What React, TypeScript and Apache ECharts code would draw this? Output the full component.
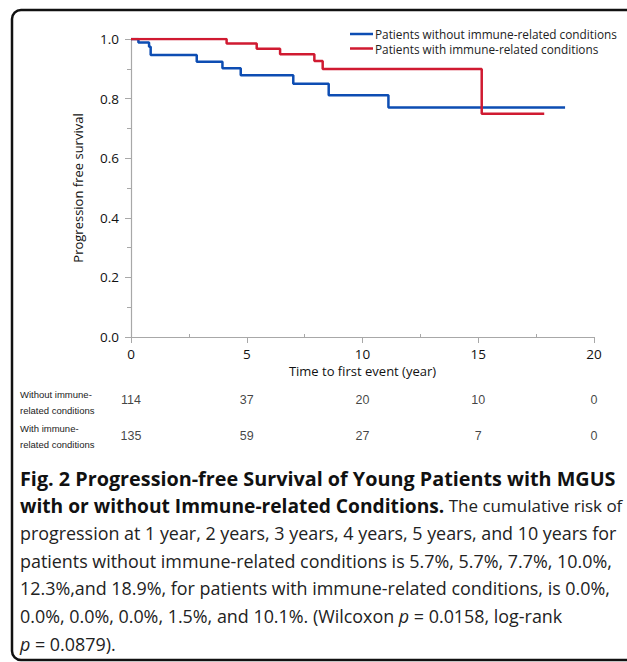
import React, { useEffect, useRef } from "react";
import * as echarts from "echarts";

const seriesNames = [
  "Patients without immune-related conditions",
  "Patients with immune-related conditions",
];
// Kaplan-Meier steps: [time (years), survival]
const withoutImmune: [number, number][] = [
  [0, 1.0],
  [0.32, 0.988],
  [0.78, 0.974],
  [0.85, 0.946],
  [2.84, 0.924],
  [3.95, 0.902],
  [4.74, 0.878],
  [7.01, 0.85],
  [8.54, 0.811],
  [11.12, 0.77],
  [18.75, 0.77],
];
const withImmune: [number, number][] = [
  [0, 1.0],
  [4.13, 0.985],
  [5.43, 0.967],
  [6.44, 0.949],
  [7.92, 0.926],
  [8.28, 0.899],
  [15.15, 0.749],
  [17.85, 0.749],
];
const riskTimes = [0, 5, 10, 15, 20];
const riskWithout = [114, 37, 20, 10, 0];
const riskWith = [135, 59, 27, 7, 0];
const riskRows = ["without", "with"];

const BLUE = "#0d4db3";
const RED = "#d01a31";
const AXIS = "#a8a8a8";
const FONT = "'Open Sans', 'Noto Sans', sans-serif";
const CAP_FONT = "'Open Sans', 'Noto Sans', sans-serif";

export default function App() {
  const ref = useRef<HTMLDivElement>(null);
  useEffect(() => {
    if (!ref.current) return;
    const chart = echarts.init(ref.current, undefined, { renderer: "svg" });
    const boldSize = 19.8;
    const regSize = 17.9;
    const lh = 27.6;
    const capY = 478;
    const rich = {
      b: { fontFamily: CAP_FONT, fontSize: boldSize, fontWeight: "bold", fill: "#111" },
      b2: { fontFamily: CAP_FONT, fontSize: 19.2, fontWeight: "bold", fill: "#111" },
      n2: { fontFamily: CAP_FONT, fontSize: 17.0, fill: "#222" },
      n: { fontFamily: CAP_FONT, fontSize: regSize, fill: "#222" },
      i: { fontFamily: CAP_FONT, fontSize: regSize, fontStyle: "italic", fill: "#222" },
    };
    const capLines = [
      "{b|Fig. 2 Progression-free Survival of Young Patients with MGUS}",
      "{b2|with or without Immune-related Conditions.}{n2| The cumulative risk of}",
      "{n|progression at 1 year, 2 years, 3 years, 4 years, 5 years, and 10 years for}",
      "{n|patients without immune-related conditions is 5.7%, 5.7%, 7.7%, 10.0%,}",
      "{n|12.3%,and 18.9%, for patients with immune-related conditions, is 0.0%,}",
      "{n|0.0%, 0.0%, 0.0%, 1.5%, and 10.1%. (Wilcoxon }{i|p}{n| = 0.0158, log-rank}",
      "{i|p}{n| = 0.0879).}",
    ];
    const rowLabelStyle = {
      fontFamily: "'Liberation Sans', Arial, sans-serif",
      fontSize: 9.5,
      lineHeight: 16.5,
      fill: "#222",
      verticalAlign: "top",
    };
    const graphics: any[] = [
      {
        type: "rect",
        shape: { x: 12, y: 10, width: 640, height: 650, r: 9 },
        style: { fill: "none", stroke: "#111", lineWidth: 2.5 },
      },
      ...capLines.map((t, k) => ({
        type: "text",
        x: 20,
        y: capY + k * lh,
        style: { text: t, rich, verticalAlign: "middle", align: "left" },
      })),
      {
        type: "text",
        x: 20,
        y: 386,
        style: { ...rowLabelStyle, text: "Without immune-\nrelated conditions" },
      },
      {
        type: "text",
        x: 20,
        y: 420,
        style: { ...rowLabelStyle, text: "With immune-\nrelated conditions" },
      },
    ];

    const xBase = {
      type: "value",
      min: 0,
      max: 20,
      interval: 5,
    };
    const riskLabel = {
      show: true,
      position: "inside",
      formatter: (p: any) => String(p.value[2]),
      fontFamily: "'Liberation Sans', Arial, sans-serif",
      fontSize: 12.5,
      color: "#111",
    };
    chart.setOption({
      animation: false,
      textStyle: { fontFamily: FONT },
      grid: [
        { left: 131, right: 33, top: 39, bottom: 325 },
        { left: 131, right: 33, top: 382, height: 72 },
      ],
      legend: {
        orient: "vertical",
        left: 345,
        top: 23,
        itemWidth: 23,
        itemHeight: 2.5,
        itemGap: 2.5,
        icon: "rect",
        textStyle: { fontFamily: FONT, fontSize: 11.8, color: "#222", padding: [0, 0, 0, -3] },
        data: seriesNames,
      },
      xAxis: [
        {
          ...xBase,
          gridIndex: 0,
          name: "Time to first event (year)",
          nameLocation: "middle",
          nameGap: 27,
          nameTextStyle: { fontFamily: FONT, fontSize: 13, color: "#111" },
          axisLine: { show: true, lineStyle: { color: AXIS, width: 1.2 } },
          axisTick: { show: true, length: 6, lineStyle: { color: AXIS } },
          axisLabel: { fontFamily: FONT, fontSize: 13.5, color: "#111", margin: 10 },
          splitLine: { show: false },
        },
        {
          ...xBase,
          gridIndex: 0,
          position: "bottom",
          axisLine: { show: false },
          axisTick: { show: false, inside: true },
          minorTick: { show: true, splitNumber: 2, length: 3, lineStyle: { color: AXIS } },
          axisLabel: { show: false },
          splitLine: { show: false },
        },
        {
          ...xBase,
          gridIndex: 1,
          show: false,
        },
      ],
      yAxis: [
        {
          type: "value",
          gridIndex: 0,
          min: 0,
          max: 1,
          interval: 0.2,
          name: "Progression free survival",
          nameLocation: "middle",
          nameGap: 47,
          nameTextStyle: { fontFamily: FONT, fontSize: 13, color: "#111" },
          axisLine: { show: true, lineStyle: { color: AXIS, width: 1.2 } },
          axisTick: { show: true, length: 6, lineStyle: { color: AXIS } },
          minorTick: { show: true, splitNumber: 2, length: 4, lineStyle: { color: AXIS } },
          axisLabel: {
            fontFamily: FONT,
            fontSize: 13.5,
            color: "#111",
            margin: 12,
            formatter: (v: number) => v.toFixed(1),
          },
          splitLine: { show: false },
        },
        {
          type: "category",
          gridIndex: 1,
          data: riskRows,
          inverse: true,
          show: false,
        },
      ],
      series: [
        {
          name: seriesNames[0],
          type: "line",
          step: "end",
          data: withoutImmune,
          showSymbol: false,
          symbol: "none",
          lineStyle: { color: BLUE, width: 2.5 },
          itemStyle: { color: BLUE },
          z: 3,
        },
        {
          name: seriesNames[1],
          type: "line",
          step: "end",
          data: withImmune,
          showSymbol: false,
          symbol: "none",
          lineStyle: { color: RED, width: 2.5 },
          itemStyle: { color: RED },
          z: 4,
        },
        {
          type: "scatter",
          xAxisIndex: 2,
          yAxisIndex: 1,
          symbolSize: 0,
          silent: true,
          data: riskTimes.map((t, k) => [t, riskRows[0], riskWithout[k]]),
          label: riskLabel,
        },
        {
          type: "scatter",
          xAxisIndex: 2,
          yAxisIndex: 1,
          symbolSize: 0,
          silent: true,
          data: riskTimes.map((t, k) => [t, riskRows[1], riskWith[k]]),
          label: riskLabel,
        },
      ],
      graphic: graphics,
    });
    return () => chart.dispose();
  }, []);
  return <div ref={ref} style={{ width: 627, height: 662, position: "absolute", left: 0, top: 0 }} />;
}
